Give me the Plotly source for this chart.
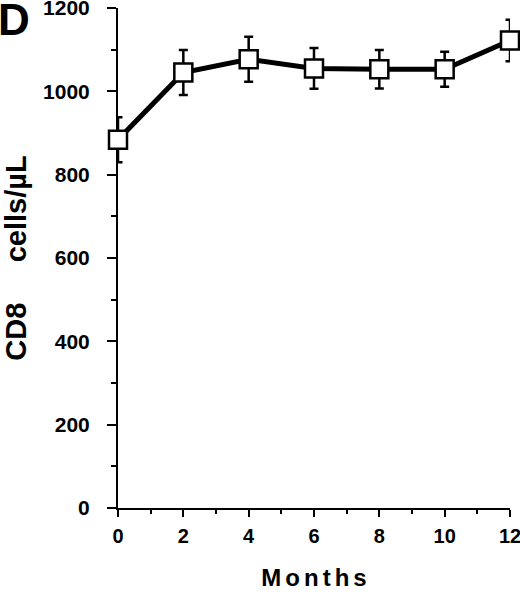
import plotly.graph_objects as go

months = [0, 2, 4, 6, 8, 10, 12]
cd8 = [884, 1045, 1077, 1055, 1053, 1053, 1122]
cd8_err = [54, 54, 54, 49, 46, 42, 50]
x_ticks = [0, 2, 4, 6, 8, 10, 12]
y_ticks = [0, 200, 400, 600, 800, 1000, 1200]

FONT = "Liberation Sans, Arial, sans-serif"

fig = go.Figure()
fig.add_trace(go.Scatter(
    x=months, y=cd8,
    mode="lines+markers",
    line=dict(color="black", width=5),
    marker=dict(symbol="square", size=18, color="white",
                line=dict(color="black", width=2.5)),
    error_y=dict(type="data", array=cd8_err, visible=True,
                 color="black", thickness=2.5, width=4.5),
    cliponaxis=False,
    showlegend=False,
))

fig.update_layout(
    width=520, height=599,
    margin=dict(l=118, r=10, t=8, b=91),
    paper_bgcolor="white", plot_bgcolor="white",
    font=dict(family=FONT, color="black"),
    xaxis=dict(
        range=[0, 12], tickvals=x_ticks, ticktext=[str(v) for v in x_ticks],
        showgrid=False, zeroline=False, automargin=False,
        showline=True, linecolor="black", linewidth=2,
        ticks="outside", ticklen=7, tickwidth=2, tickcolor="black",
        tickfont=dict(size=20, family=FONT, weight="bold"),
        ticklabelstandoff=2, ticklabeloverflow="allow",
        minor=dict(dtick=1, tick0=0, ticks="outside", ticklen=4,
                   tickwidth=2, tickcolor="black"),
        title=dict(text="M\u2006o\u2006n\u2006t\u2006h\u2006s",
                   font=dict(size=24, family=FONT, weight="bold"),
                   standoff=23),
        layer="below traces",
    ),
    yaxis=dict(
        range=[0, 1200], tickvals=y_ticks, ticktext=[str(v) for v in y_ticks],
        showgrid=False, zeroline=False, automargin=False,
        showline=True, linecolor="black", linewidth=2,
        ticks="outside", ticklen=9, tickwidth=2, tickcolor="black",
        tickfont=dict(size=21, family=FONT, weight="bold"),
        ticklabelstandoff=13, ticklabeloverflow="allow",
        minor=dict(dtick=100, tick0=0, ticks="outside", ticklen=5,
                   tickwidth=2, tickcolor="black"),
        title=dict(text="CD8\u00a0\u00a0\u00a0\u00a0\u00a0cells/\u00b5L",
                   font=dict(size=29, family=FONT, weight="bold"),
                   standoff=22),
        layer="below traces",
    ),
)

fig.add_annotation(
    text="D", xref="paper", yref="paper",
    x=-0.31, y=1.03, xanchor="left", yanchor="top",
    showarrow=False,
    font=dict(size=44, family=FONT, weight="bold", color="black"),
)

fig.write_html("out.html", config={"displayModeBar": False},
               post_script="document.body.style.margin='0';")
